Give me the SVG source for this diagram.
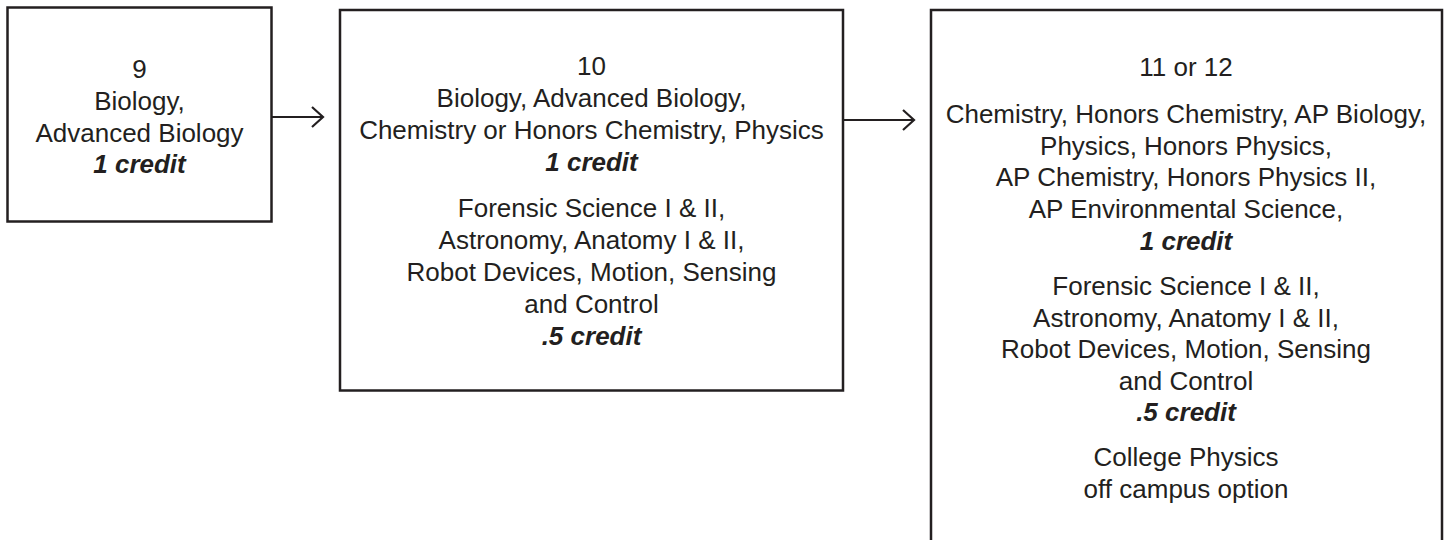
<svg xmlns="http://www.w3.org/2000/svg" width="1452" height="540" viewBox="0 0 1452 540">
<style>
.box{fill:#fff;stroke:#231f20;stroke-width:2.5}
.t{font-family:"Liberation Sans",Arial,Helvetica,sans-serif;font-size:26px;fill:#231f20;text-anchor:middle}
.b{font-weight:bold;font-style:italic}
.c{fill:none;stroke:#231f20;stroke-width:2.2}
</style>
<rect width="1452" height="540" fill="#fff"/>
<g id="connectors">
<line class="c" x1="272" y1="117" x2="322" y2="117"/>
<polyline class="c" points="312,107 323,117 312,127"/>
<line class="c" x1="843" y1="120" x2="913" y2="120"/>
<polyline class="c" points="903,110 914,120 903,130"/>
</g>
<g id="grade9">
<rect class="box" x="7.5" y="7.5" width="264" height="214"/>
<text class="t" x="139.5" y="78">9</text>
<text class="t" x="139.5" y="110">Biology,</text>
<text class="t" x="139.5" y="142">Advanced Biology</text>
<text class="t b" x="139.5" y="173">1 credit</text>
</g>
<g id="grade10">
<rect class="box" x="340" y="10" width="503" height="380.5"/>
<text class="t" x="591.5" y="75">10</text>
<text class="t" x="591.5" y="107">Biology, Advanced Biology,</text>
<text class="t" x="591.5" y="139">Chemistry or Honors Chemistry, Physics</text>
<text class="t b" x="591.5" y="171">1 credit</text>
<text class="t" x="591.5" y="217">Forensic Science I &amp; II,</text>
<text class="t" x="591.5" y="249">Astronomy, Anatomy I &amp; II,</text>
<text class="t" x="591.5" y="281">Robot Devices, Motion, Sensing</text>
<text class="t" x="591.5" y="313">and Control</text>
<text class="t b" x="591.5" y="345">.5 credit</text>
</g>
<g id="grade11-12">
<rect class="box" x="931" y="10" width="511" height="560"/>
<text class="t" x="1186" y="76">11 or 12</text>
<text class="t" x="1186" y="122.7">Chemistry, Honors Chemistry, AP Biology,</text>
<text class="t" x="1186" y="154.5">Physics, Honors Physics,</text>
<text class="t" x="1186" y="186.3">AP Chemistry, Honors Physics II,</text>
<text class="t" x="1186" y="218">AP Environmental Science,</text>
<text class="t b" x="1186" y="250">1 credit</text>
<text class="t" x="1186" y="295">Forensic Science I &amp; II,</text>
<text class="t" x="1186" y="326.5">Astronomy, Anatomy I &amp; II,</text>
<text class="t" x="1186" y="358">Robot Devices, Motion, Sensing</text>
<text class="t" x="1186" y="389.5">and Control</text>
<text class="t b" x="1186" y="421">.5 credit</text>
<text class="t" x="1186" y="466">College Physics</text>
<text class="t" x="1186" y="498">off campus option</text>
</g>
</svg>
